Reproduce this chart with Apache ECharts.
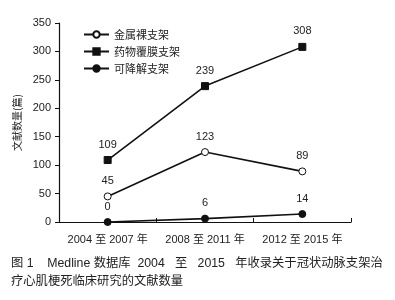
<!DOCTYPE html>
<html>
<head>
<meta charset="utf-8">
<script src="https://cdn.jsdelivr.net/npm/echarts@6/dist/echarts.min.js"></script>
<style>
  html, body { margin: 0; padding: 0; background: #fff; }
  #chart { width: 395px; height: 300px; }
</style>
</head>
<body>
<div id="chart"></div>
<script>
const categories = ['2004 至 2007 年', '2008 至 2011 年', '2012 至 2015 年'];
const bareMetal = [45, 123, 89];
const drugEluting = [109, 239, 308];
const bioresorbable = [0, 6, 14];
const yTicks = [0, 50, 100, 150, 200, 250, 300, 350];

const FONT = '"Liberation Sans", "Noto Sans CJK SC", sans-serif';
const chart = echarts.init(document.getElementById('chart'));

function lineSeries(name, data, symbol, filled) {
  return {
    name: name,
    type: 'line',
    data: data,
    symbol: symbol,
    symbolSize: 7,
    showAllSymbol: true,
    lineStyle: { color: '#111', width: 1.6 },
    itemStyle: { color: filled ? '#111' : '#fff', borderColor: '#111', borderWidth: 1 },
    label: {
      show: true,
      position: 'top',
      distance: 6,
      color: '#222',
      fontSize: 11,
      fontFamily: FONT
    }
  };
}

chart.setOption({
  animation: false,
  textStyle: { fontFamily: FONT },
  grid: { left: 59, right: 44, top: 23, bottom: 78 },
  legend: {
    orient: 'vertical',
    left: 78,
    top: 24,
    itemGap: 6,
    itemWidth: 25,
    itemHeight: 8,
    textStyle: { fontSize: 11, color: '#222', fontFamily: '"Noto Sans CJK SC", sans-serif' },
    data: ['金属裸支架', '药物覆膜支架', '可降解支架']
  },
  xAxis: {
    type: 'category',
    boundaryGap: true,
    data: categories,
    axisLine: { lineStyle: { color: '#111', width: 1.2 } },
    axisTick: { show: true, inside: true, length: 4, lineStyle: { color: '#111' } },
    axisLabel: { color: '#222', fontSize: 11, margin: 12, interval: 0, hideOverlap: false, fontFamily: FONT }
  },
  yAxis: {
    type: 'value',
    min: 0,
    max: 350,
    interval: 50,
    name: '文献数量(篇)',
    nameLocation: 'middle',
    nameGap: 37,
    nameRotate: 90,
    nameTextStyle: { color: '#222', fontSize: 10, fontFamily: '"Noto Sans CJK SC", sans-serif' },
    axisLine: { show: true, lineStyle: { color: '#111', width: 1.2 } },
    axisTick: { show: true, length: 4, lineStyle: { color: '#111' } },
    axisLabel: {
      color: '#222', fontSize: 11, margin: 8, fontFamily: FONT,
      formatter: v => yTicks.includes(v) ? String(v) : ''
    },
    splitLine: { show: false }
  },
  series: [
    lineSeries('金属裸支架', bareMetal, 'circle', false),
    lineSeries('药物覆膜支架', drugEluting, 'rect', true),
    lineSeries('可降解支架', bioresorbable, 'circle', true)
  ],
  graphic: [
    {
      type: 'text', left: 11, top: 257,
      style: {
        text: '图 1    Medline 数据库  2004   至   2015   年收录关于冠状动脉支架治',
        fill: '#222', fontSize: 12.3, fontFamily: FONT
      }
    },
    {
      type: 'text', left: 11, top: 275,
      style: {
        text: '疗心肌梗死临床研究的文献数量',
        fill: '#222', fontSize: 12.3, fontFamily: FONT
      }
    }
  ]
});
</script>
</body>
</html>
